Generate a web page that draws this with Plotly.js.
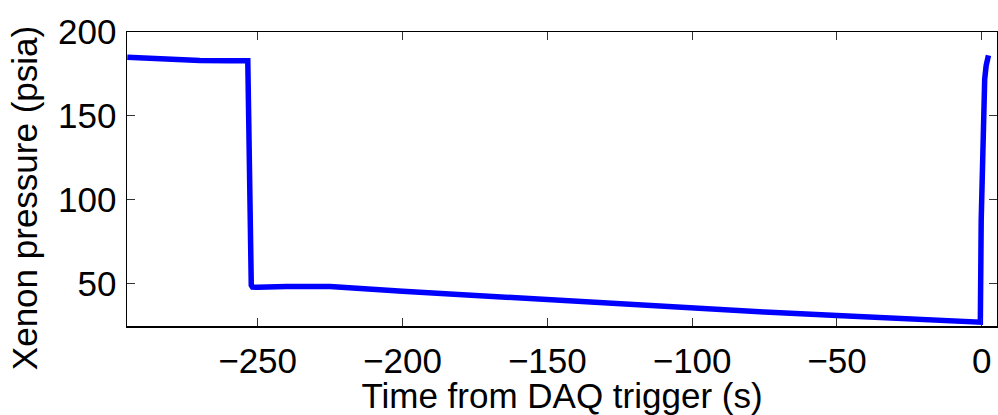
<!DOCTYPE html>
<html>
<head>
<meta charset="utf-8">
<script src="https://cdn.plot.ly/plotly-3.0.1.min.js"></script>
<style>html,body{margin:0;padding:0;background:#fff;}#chart{width:998px;height:415px;}</style>
</head>
<body>
<div id="chart"></div>
<script>
// Data
const timeSeconds = [-295, -290, -285, -280, -270, -260, -253.4, -253.1, -252.9, -252.7, -252.5, -252.2, -251.8, -250, -240, -229, -225, -200, -175, -150, -125, -100, -75, -50, -25, -1, -0.5, -0.2, 0.2, 0.6, 1.0, 1.5, 2.3];
const xenonPressure = [185.0, 184.6, 184.0, 183.4, 183.1, 183.0, 183.0, 150, 110, 75, 55, 49, 47.9, 47.8, 48.2, 48.6, 48.3, 45.4, 42.8, 40.3, 37.7, 35.1, 33.0, 31.0, 29.0, 27.2, 27.0, 88, 125, 150, 172, 180, 186.2];
const xTickValues = [-250, -200, -150, -100, -50, 0];
const yTickValues = [50, 100, 150, 200];
const xTitle = "Time from DAQ trigger (s)";
const yTitle = "Xenon pressure (psia)";

const font = "Liberation Sans, Arial, Helvetica, sans-serif";
const fontSize = 35;

const trace = {
  x: timeSeconds,
  y: xenonPressure,
  type: "scatter",
  mode: "lines",
  line: {color: "#0000ff", width: 5.5},
  showlegend: false,
  hoverinfo: "x+y"
};

const axisCommon = {
  ticks: "inside",
  ticklen: 8,
  tickwidth: 1,
  tickcolor: "#333",
  mirror: "ticks",
  showline: true,
  linecolor: "#000",
  linewidth: 1.5,
  showgrid: false,
  zeroline: false,
  tickfont: {family: font, size: fontSize, color: "#000"}
};

const layout = {
  width: 998,
  height: 415,
  margin: {l: 127, r: 1, t: 32, b: 89, pad: 0},
  paper_bgcolor: "#fff",
  plot_bgcolor: "#fff",
  font: {family: font, color: "#000"},
  xaxis: Object.assign({}, axisCommon, {
    range: [-295.1, 5.25],
    tickmode: "array",
    tickvals: xTickValues,
    ticklabelstandoff: 3,
    title: {text: xTitle, font: {family: font, size: fontSize, color: "#000"}, standoff: 7}
  }),
  yaxis: Object.assign({}, axisCommon, {
    range: [24.7, 200.1],
    tickmode: "array",
    tickvals: yTickValues,
    ticklabelstandoff: 2
  }),
  annotations: [{
    text: yTitle,
    xref: "paper", yref: "paper",
    x: (24 - 127) / 870,
    y: (325.7 - 198) / 293.7,
    xanchor: "center", yanchor: "middle",
    textangle: -90,
    showarrow: false,
    font: {family: font, size: fontSize, color: "#000"}
  }]
};

Plotly.newPlot("chart", [trace], layout, {staticPlot: true, displayModeBar: false});
</script>
</body>
</html>
